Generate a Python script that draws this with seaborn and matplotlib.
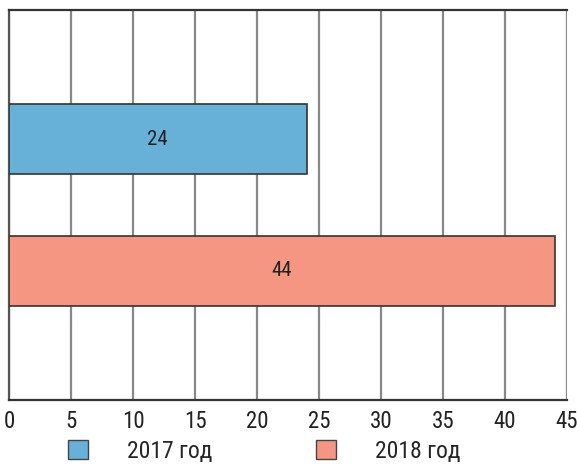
import matplotlib
matplotlib.use("Agg")
import matplotlib.pyplot as plt
import seaborn as sns
import pandas as pd
from matplotlib.patches import Patch

categories = ["2017 год", "2018 год"]
values = [24, 44]
colors = ["#67b1d8", "#f59682"]
xticks = [0, 5, 10, 15, 20, 25, 30, 35, 40, 45]

sns.set_theme(style="white")
plt.rcParams['font.family'] = ['Roboto Condensed', 'DejaVu Sans']
plt.rcParams['font.weight'] = 'normal'

df = pd.DataFrame({"cat": categories, "val": values})

W, H = 577, 467
fig = plt.figure(figsize=(W / 100, H / 100), dpi=100)
ax = fig.add_axes([9 / W, (H - 400) / H, (567 - 9) / W, (400 - 10) / H])

sns.barplot(data=df, y="cat", x="val", hue="cat", palette=colors, orient="h",
            ax=ax, width=0.53, edgecolor="#333333", linewidth=1.2, saturation=1,
            legend=False, dodge=False, zorder=3)

ax.set_xlim(0, 45)
ax.set_ylim(1.98, -0.98)
ax.set_xticks(xticks)
ax.set_xticklabels([str(t) for t in xticks], fontsize=16.5, color="#222222")
ax.set_yticks([])
ax.set_xlabel("")
ax.set_ylabel("")
ax.grid(axis="x", color="#888888", linewidth=1.6, zorder=0)
ax.grid(axis="y", visible=False)
ax.tick_params(axis="x", length=0, pad=7.5)

for side in ["left", "bottom", "top"]:
    ax.spines[side].set_visible(True)
    ax.spines[side].set_color("#333333")
    ax.spines[side].set_linewidth(1.6)
ax.spines["left"].set_color("#555555")
ax.spines["right"].set_visible(False)

for i, v in enumerate(values):
    ax.text(v / 2, i, str(v), ha="center", va="center", fontsize=15, color="#222222", zorder=5)

handles = [Patch(facecolor=c, edgecolor="#444444", linewidth=1.0) for c in colors]
fig.legend(handles, categories, loc="center left", bbox_to_anchor=(68 / W, 1 - 451 / H),
           ncol=2, frameon=False, fontsize=17, handlelength=0.85, handleheight=0.85,
           handletextpad=1.65, columnspacing=4.4, borderpad=0, borderaxespad=0)

fig.savefig("out.png", dpi=100)
